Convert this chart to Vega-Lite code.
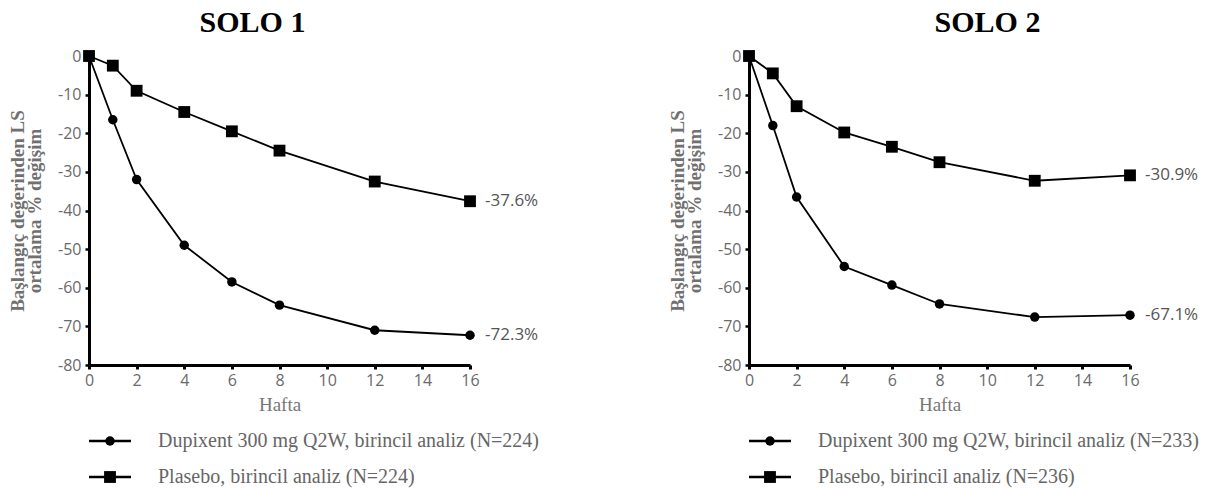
{
  "$schema": "https://vega.github.io/schema/vega-lite/v6.json",
  "padding": {"left": 8, "top": 8, "right": 0, "bottom": 0},
  "background": "white",
  "config": {"view": {"stroke": null}},
  "datasets": {
    "solo1": [
      {"seri": "Dupixent", "hafta": 0, "degisim": 0},
      {"seri": "Dupixent", "hafta": 1, "degisim": -16.5},
      {"seri": "Dupixent", "hafta": 2, "degisim": -32},
      {"seri": "Dupixent", "hafta": 4, "degisim": -49},
      {"seri": "Dupixent", "hafta": 6, "degisim": -58.5},
      {"seri": "Dupixent", "hafta": 8, "degisim": -64.5},
      {"seri": "Dupixent", "hafta": 12, "degisim": -71},
      {"seri": "Dupixent", "hafta": 16, "degisim": -72.3, "etiket": "-72.3%"},
      {"seri": "Plasebo", "hafta": 0, "degisim": 0},
      {"seri": "Plasebo", "hafta": 1, "degisim": -2.5},
      {"seri": "Plasebo", "hafta": 2, "degisim": -9},
      {"seri": "Plasebo", "hafta": 4, "degisim": -14.5},
      {"seri": "Plasebo", "hafta": 6, "degisim": -19.5},
      {"seri": "Plasebo", "hafta": 8, "degisim": -24.5},
      {"seri": "Plasebo", "hafta": 12, "degisim": -32.5},
      {"seri": "Plasebo", "hafta": 16, "degisim": -37.6, "etiket": "-37.6%"}
    ],
    "solo2": [
      {"seri": "Dupixent", "hafta": 0, "degisim": 0},
      {"seri": "Dupixent", "hafta": 1, "degisim": -18},
      {"seri": "Dupixent", "hafta": 2, "degisim": -36.5},
      {"seri": "Dupixent", "hafta": 4, "degisim": -54.5},
      {"seri": "Dupixent", "hafta": 6, "degisim": -59.3},
      {"seri": "Dupixent", "hafta": 8, "degisim": -64.2},
      {"seri": "Dupixent", "hafta": 12, "degisim": -67.6},
      {"seri": "Dupixent", "hafta": 16, "degisim": -67.1, "etiket": "-67.1%"},
      {"seri": "Plasebo", "hafta": 0, "degisim": 0},
      {"seri": "Plasebo", "hafta": 1, "degisim": -4.5},
      {"seri": "Plasebo", "hafta": 2, "degisim": -13},
      {"seri": "Plasebo", "hafta": 4, "degisim": -19.8},
      {"seri": "Plasebo", "hafta": 6, "degisim": -23.5},
      {"seri": "Plasebo", "hafta": 8, "degisim": -27.5},
      {"seri": "Plasebo", "hafta": 12, "degisim": -32.3},
      {"seri": "Plasebo", "hafta": 16, "degisim": -30.9, "etiket": "-30.9%"}
    ],
    "legend1": [
      {"seri": "Dupixent", "etiket": "Dupixent 300 mg  Q2W, birincil analiz (N=224)"},
      {"seri": "Plasebo", "etiket": "Plasebo, birincil analiz (N=224)"}
    ],
    "legend2": [
      {"seri": "Dupixent", "etiket": "Dupixent 300 mg Q2W, birincil analiz (N=233)"},
      {"seri": "Plasebo", "etiket": "Plasebo, birincil analiz (N=236)"}
    ]
  },
  "spacing": 109,
  "hconcat": [
    {
      "spacing": 9,
      "vconcat": [
        {
          "width": 381,
          "height": 309,
          "title": {"text": "SOLO 1", "font": "Liberation Serif", "fontSize": 30, "fontWeight": "bold", "color": "black", "anchor": "middle", "dx": -27, "offset": 10},
          "data": {"name": "solo1"},
          "encoding": {
            "x": {"field": "hafta", "type": "quantitative", "scale": {"domain": [0, 16], "nice": false},
              "axis": {"title": "Hafta", "values": [0, 2, 4, 6, 8, 10, 12, 14, 16], "grid": false, "domainColor": "black", "domainWidth": 3, "tickColor": "black", "tickWidth": 3, "tickSize": 4, "labelFont": "Open Sans", "labelFontSize": 16, "labelColor": "#6a6a6a", "labelPadding": 3, "labelFlush": false, "titleFont": "Liberation Serif", "titleFontSize": 19, "titleFontWeight": "normal", "titleColor": "#777", "titlePadding": 7}},
            "y": {"field": "degisim", "type": "quantitative", "scale": {"domain": [-80, 0], "nice": false},
              "axis": {"title": ["Başlangıç değerinden LS", "ortalama % değişim"], "values": [0, -10, -20, -30, -40, -50, -60, -70, -80], "labelExpr": "replace(datum.label, '−', '-')", "grid": false, "domainColor": "black", "domainWidth": 3, "tickColor": "black", "tickWidth": 2.5, "tickSize": 4, "labelFont": "Open Sans", "labelFontSize": 16, "labelColor": "#6a6a6a", "labelPadding": 4, "titleFont": "Liberation Serif", "titleFontSize": 19, "titleLineHeight": 17, "titleFontWeight": "bold", "titleColor": "#707070", "titlePadding": 13}}
          },
          "layer": [
            {"mark": {"type": "line", "color": "black", "strokeWidth": 1.8}, "encoding": {"detail": {"field": "seri"}}},
            {"mark": {"type": "point", "filled": true, "color": "black", "opacity": 1},
              "encoding": {
                "shape": {"field": "seri", "type": "nominal", "scale": {"domain": ["Dupixent", "Plasebo"], "range": ["circle", "square"]}, "legend": null},
                "size": {"field": "seri", "type": "nominal", "scale": {"domain": ["Dupixent", "Plasebo"], "range": [90, 140]}, "legend": null}
              }},
            {"transform": [{"filter": "isString(datum.etiket)"}],
              "mark": {"type": "text", "align": "left", "baseline": "middle", "dx": 15, "font": "Open Sans", "fontSize": 17, "color": "#555"},
              "encoding": {"text": {"field": "etiket"}}}
          ]
        },
        {
          "width": 470,
          "height": 72,
          "data": {"name": "legend1"},
          "encoding": {"y": {"field": "seri", "type": "nominal", "sort": ["Dupixent", "Plasebo"], "axis": null, "scale": {"paddingInner": 0, "paddingOuter": 0}}},
          "layer": [
            {"mark": {"type": "rule", "color": "black", "strokeWidth": 2.5}, "encoding": {"x": {"value": 0}, "x2": {"value": 42}}},
            {"mark": {"type": "point", "filled": true, "color": "black", "opacity": 1},
              "encoding": {"x": {"value": 21},
                "shape": {"field": "seri", "type": "nominal", "scale": {"domain": ["Dupixent", "Plasebo"], "range": ["circle", "square"]}, "legend": null},
                "size": {"field": "seri", "type": "nominal", "scale": {"domain": ["Dupixent", "Plasebo"], "range": [90, 130]}, "legend": null}}},
            {"mark": {"type": "text", "align": "left", "baseline": "middle", "font": "Liberation Serif", "fontSize": 20, "color": "#666"},
              "encoding": {"x": {"value": 69}, "text": {"field": "etiket"}}}
          ]
        }
      ]
    },
    {
      "spacing": 9,
      "vconcat": [
        {
          "width": 381,
          "height": 309,
          "title": {"text": "SOLO 2", "font": "Liberation Serif", "fontSize": 30, "fontWeight": "bold", "color": "black", "anchor": "middle", "dx": 48, "offset": 10},
          "data": {"name": "solo2"},
          "encoding": {
            "x": {"field": "hafta", "type": "quantitative", "scale": {"domain": [0, 16], "nice": false},
              "axis": {"title": "Hafta", "values": [0, 2, 4, 6, 8, 10, 12, 14, 16], "grid": false, "domainColor": "black", "domainWidth": 3, "tickColor": "black", "tickWidth": 3, "tickSize": 4, "labelFont": "Open Sans", "labelFontSize": 16, "labelColor": "#6a6a6a", "labelPadding": 3, "labelFlush": false, "titleFont": "Liberation Serif", "titleFontSize": 19, "titleFontWeight": "normal", "titleColor": "#777", "titlePadding": 7}},
            "y": {"field": "degisim", "type": "quantitative", "scale": {"domain": [-80, 0], "nice": false},
              "axis": {"title": ["Başlangıç değerinden LS", "ortalama % değişim"], "values": [0, -10, -20, -30, -40, -50, -60, -70, -80], "labelExpr": "replace(datum.label, '−', '-')", "grid": false, "domainColor": "black", "domainWidth": 3, "tickColor": "black", "tickWidth": 2.5, "tickSize": 4, "labelFont": "Open Sans", "labelFontSize": 16, "labelColor": "#6a6a6a", "labelPadding": 4, "titleFont": "Liberation Serif", "titleFontSize": 19, "titleLineHeight": 17, "titleFontWeight": "bold", "titleColor": "#707070", "titlePadding": 13}}
          },
          "layer": [
            {"mark": {"type": "line", "color": "black", "strokeWidth": 1.8}, "encoding": {"detail": {"field": "seri"}}},
            {"mark": {"type": "point", "filled": true, "color": "black", "opacity": 1},
              "encoding": {
                "shape": {"field": "seri", "type": "nominal", "scale": {"domain": ["Dupixent", "Plasebo"], "range": ["circle", "square"]}, "legend": null},
                "size": {"field": "seri", "type": "nominal", "scale": {"domain": ["Dupixent", "Plasebo"], "range": [90, 140]}, "legend": null}
              }},
            {"transform": [{"filter": "isString(datum.etiket)"}],
              "mark": {"type": "text", "align": "left", "baseline": "middle", "dx": 15, "font": "Open Sans", "fontSize": 17, "color": "#555"},
              "encoding": {"text": {"field": "etiket"}}}
          ]
        },
        {
          "width": 470,
          "height": 72,
          "data": {"name": "legend2"},
          "encoding": {"y": {"field": "seri", "type": "nominal", "sort": ["Dupixent", "Plasebo"], "axis": null, "scale": {"paddingInner": 0, "paddingOuter": 0}}},
          "layer": [
            {"mark": {"type": "rule", "color": "black", "strokeWidth": 2.5}, "encoding": {"x": {"value": 0}, "x2": {"value": 42}}},
            {"mark": {"type": "point", "filled": true, "color": "black", "opacity": 1},
              "encoding": {"x": {"value": 21},
                "shape": {"field": "seri", "type": "nominal", "scale": {"domain": ["Dupixent", "Plasebo"], "range": ["circle", "square"]}, "legend": null},
                "size": {"field": "seri", "type": "nominal", "scale": {"domain": ["Dupixent", "Plasebo"], "range": [90, 130]}, "legend": null}}},
            {"mark": {"type": "text", "align": "left", "baseline": "middle", "font": "Liberation Serif", "fontSize": 20, "color": "#666"},
              "encoding": {"x": {"value": 69}, "text": {"field": "etiket"}}}
          ]
        }
      ]
    }
  ]
}
